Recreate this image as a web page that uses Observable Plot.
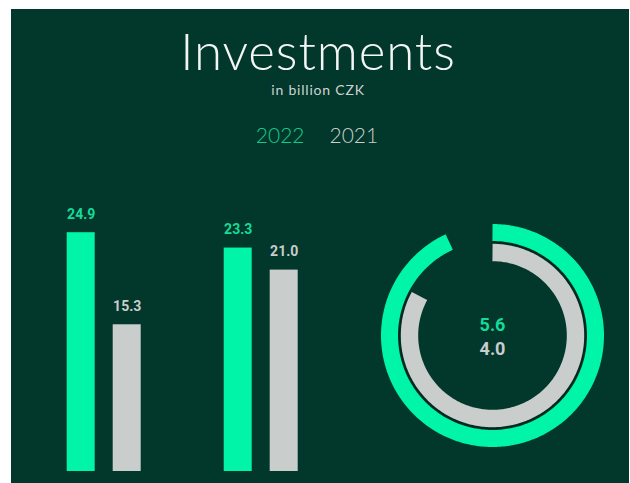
<!DOCTYPE html>
<html>
<head>
<meta charset="utf-8">
<script src="https://cdn.jsdelivr.net/npm/d3@7"></script>
<script src="https://cdn.jsdelivr.net/npm/@observablehq/plot@0.6"></script>
<style>
  html, body { margin: 0; padding: 0; background: #ffffff; }
  #frame { position: absolute; left: 11px; top: 9px; width: 618px; height: 474px; background: #02372b; overflow: hidden; }
  .t { position: absolute; left: 0; width: 618px; text-align: center; line-height: 1; white-space: nowrap; }
  #title { top: 16px; left: -2px; font-family: Lato, "Open Sans", sans-serif; font-weight: 300; font-size: 51px; letter-spacing: 0.9px; color: #f4f6f5; }
  #subtitle { top: 74px; left: -2px; font-family: Lato, "Open Sans", sans-serif; font-weight: 400; font-size: 14px; color: #cfd4d2; letter-spacing: 0.8px; }
  #legend { top: 115px; left: -3px; font-family: Lato, "Open Sans", sans-serif; font-weight: 300; font-size: 21px; display: flex; justify-content: center; gap: 25px; }
  #bars { position: absolute; left: 0; top: 181px; }
  #ring { position: absolute; left: 349px; top: 191px; }
</style>
</head>
<body>
<div id="frame">
  <div id="title" class="t">Investments</div>
  <div id="subtitle" class="t">in billion CZK</div>
  <div id="legend" class="t"></div>
  <div id="bars"></div>
  <div id="ring"></div>
</div>
<script>
// ---- data ----
const years = ["2022", "2021"];
const groups = ["Investments A", "Investments B"];
const values2022 = [24.9, 23.3];
const values2021 = [15.3, 21.0];
const ringValues = [5.6, 4.0];      // 2022, 2021 (centre of the rings)
const ringShares = [0.931, 0.829];  // share of the full circle covered by each ring

// ---- styles ----
const GREEN = "#00f5a8";
const GREEN_TEXT = "#14dc98";
const LEGEND_GREEN = "#12cc8c";
const GRAY = "#c9cdcc";
const NUM_FONT = "Roboto, 'Liberation Sans', sans-serif";

// legend
const legend = document.getElementById("legend");
years.forEach((y, i) => {
  const s = document.createElement("span");
  s.textContent = y;
  s.style.color = i === 0 ? LEGEND_GREEN : GRAY;
  legend.appendChild(s);
});

// ---- bar chart ----
const barData = groups.flatMap((g, i) => [
  {group: g, year: years[0], value: values2022[i]},
  {group: g, year: years[1], value: values2021[i]}
]);

const bars = Plot.plot({
  width: 320,
  height: 290,
  marginLeft: 32.3,
  marginRight: 9.8,
  marginTop: 0,
  marginBottom: 9,
  facet: {data: barData, x: "group"},
  fx: {domain: groups, paddingInner: 0.24, paddingOuter: 0, axis: null},
  x: {domain: years, paddingInner: 0.383, paddingOuter: 0.468, axis: null},
  y: {domain: [0, 29.3], axis: null},
  color: {domain: years, range: [GREEN, GRAY]},
  style: {background: "transparent", overflow: "visible"},
  marks: [
    Plot.barY(barData, {x: "year", y: "value", fill: "year"}),
    Plot.text(barData, {
      x: "year", y: "value",
      text: d => d.value.toFixed(1),
      fill: d => d.year === years[0] ? GREEN_TEXT : GRAY,
      dy: -18.5,
      fontSize: 14,
      fontWeight: 700,
      fontFamily: NUM_FONT
    })
  ]
});
document.getElementById("bars").appendChild(bars);

// ---- ring chart ----
const RADII = [103, 83];   // centre-line radius of each ring (in the ring plot's units)
const WIDTHS = [17, 17.4];
function arc(share, r, year) {
  const n = Math.max(2, Math.round(share * 360));
  return d3.range(n + 1).map(k => {
    const a = (k / n) * share * 2 * Math.PI;
    return {x: r * Math.sin(a), y: r * Math.cos(a), year};
  });
}
const arc2022 = arc(ringShares[0], RADII[0], years[0]);
const arc2021 = arc(ringShares[1], RADII[1], years[1]);
const seam = arc(ringShares[1], 93, "seam");

const ring = Plot.plot({
  width: 264,
  height: 270,
  margin: 0,
  x: {domain: [-132, 132], axis: null},
  y: {domain: [-135, 135], axis: null},
  style: {background: "transparent", overflow: "visible"},
  marks: [
    Plot.line(arc2022, {x: "x", y: "y", stroke: GREEN, strokeWidth: WIDTHS[0], strokeLinecap: "butt", strokeLinejoin: "round"}),
    Plot.line(arc2021, {x: "x", y: "y", stroke: GRAY, strokeWidth: WIDTHS[1], strokeLinecap: "butt", strokeLinejoin: "round"}),
    Plot.line(seam, {x: "x", y: "y", stroke: "#0a241c", strokeWidth: 1.4, strokeLinecap: "butt"}),
    Plot.text([ringValues[0]], {frameAnchor: "middle", text: d => d.toFixed(1), fill: GREEN_TEXT, dy: -10.5, fontSize: 18, fontWeight: 700, fontFamily: NUM_FONT}),
    Plot.text([ringValues[1]], {frameAnchor: "middle", text: d => d.toFixed(1), fill: GRAY, dy: 13.3, fontSize: 18, fontWeight: 700, fontFamily: NUM_FONT})
  ]
});
document.getElementById("ring").appendChild(ring);
</script>
</body>
</html>
